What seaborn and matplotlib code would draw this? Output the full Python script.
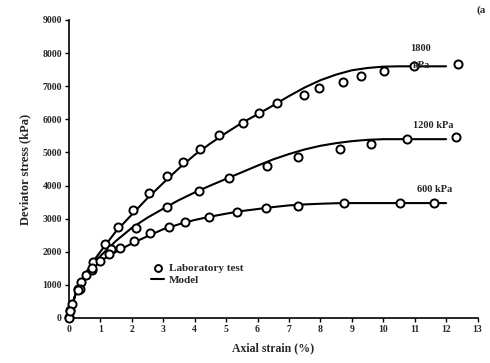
import matplotlib
matplotlib.use("Agg")
import matplotlib.pyplot as plt
import seaborn as sns
import pandas as pd

# ---- data ----
lab_1800_x = [0, 0.04, 0.28, 0.4, 0.53, 0.78, 1.15, 1.57, 2.03, 2.55, 3.11, 3.62, 4.17, 4.78,
              5.53, 6.06, 6.62, 7.49, 7.96, 8.71, 9.3, 10.03, 10.97, 12.37]
lab_1800_y = [40, 240, 870, 1100, 1300, 1700, 2225, 2740, 3260, 3770, 4290, 4700, 5105, 5530,
              5900, 6200, 6485, 6740, 6940, 7140, 7310, 7450, 7620, 7670]
lab_1200_x = [0, 0.1, 0.35, 0.73, 1.0, 1.34, 2.13, 3.11, 4.14, 5.1, 6.3, 7.3, 8.63, 9.61, 10.74, 12.33]
lab_1200_y = [0, 420, 870, 1450, 1720, 2085, 2710, 3345, 3845, 4220, 4600, 4855, 5105, 5250, 5400, 5480]
lab_600_x = [0.05, 0.3, 0.75, 1.26, 1.63, 2.07, 2.58, 3.17, 3.68, 4.47, 5.36, 6.27, 7.3, 8.74, 10.54, 11.63]
lab_600_y = [200, 850, 1500, 1925, 2125, 2325, 2560, 2760, 2890, 3040, 3190, 3310, 3390, 3465, 3465, 3465]

model_x = [0, 0.1, 0.25, 0.5, 0.75, 1, 1.5, 2, 2.5, 3, 3.5, 4, 4.5, 5, 5.5, 6, 6.5, 7, 7.5, 8,
           8.5, 9, 9.5, 10, 10.5, 11, 12]
model_1800 = [0, 380, 850, 1300, 1680, 2000, 2620, 3120, 3620, 4075, 4520, 4925, 5270, 5590, 5890,
              6150, 6420, 6700, 6960, 7180, 7350, 7480, 7550, 7590, 7600, 7600, 7600]
model_1200 = [0, 380, 830, 1280, 1620, 1870, 2330, 2720, 3030, 3300, 3560, 3790, 4000, 4200, 4400,
              4600, 4790, 4950, 5090, 5200, 5280, 5340, 5380, 5400, 5400, 5400, 5400]
model_600 = [0, 380, 820, 1250, 1540, 1720, 2000, 2250, 2470, 2680, 2830, 2960, 3060, 3150, 3230,
             3290, 3350, 3400, 3430, 3450, 3465, 3470, 3470, 3470, 3470, 3470, 3470]

x_ticks = list(range(0, 14))
y_ticks = list(range(0, 10000, 1000))

sns.set_theme(style="white")
plt.rcParams['font.family'] = ['Liberation Serif', 'DejaVu Serif']
plt.rcParams['font.weight'] = 'bold'

fig = plt.figure(figsize=(4.9, 3.63), dpi=100)
ax = fig.add_axes([0.1406, 0.124, 0.834, 0.821])

lab = pd.DataFrame({
    "x": lab_1800_x + lab_1200_x + lab_600_x,
    "y": lab_1800_y + lab_1200_y + lab_600_y,
    "p": ["1800"] * len(lab_1800_x) + ["1200"] * len(lab_1200_x) + ["600"] * len(lab_600_x),
})
mod = pd.DataFrame({
    "x": model_x * 3,
    "y": model_1800 + model_1200 + model_600,
    "p": ["1800"] * len(model_x) + ["1200"] * len(model_x) + ["600"] * len(model_x),
})

for i, p in enumerate(["1800", "1200", "600"]):
    sub = mod[mod.p == p]
    sns.lineplot(data=sub, x="x", y="y", ax=ax, color="black", linewidth=1.5,
                 label="Model" if i == 0 else None, sort=False, legend=False)

ax.scatter(lab.x, lab.y, s=34, facecolor="white", edgecolor="black", linewidth=1.4,
           zorder=3, clip_on=False, label="Laboratory test")

ax.set_xlim(0, 13)
ax.set_ylim(0, 9000)
ax.set_xticks(x_ticks)
ax.set_yticks(y_ticks)
ax.tick_params(axis="both", labelsize=7, direction="out", length=3, width=1, color="black",
               pad=2, bottom=True, left=True)
for lbl in ax.get_xticklabels() + ax.get_yticklabels():
    lbl.set_fontweight("bold")
for s in ["top", "right"]:
    ax.spines[s].set_visible(False)
for s in ["left", "bottom"]:
    ax.spines[s].set_color("black")
    ax.spines[s].set_linewidth(1.2)

ax.set_xlabel("Axial strain (%)", fontsize=8.5, fontweight="bold", labelpad=6)
ax.set_ylabel("Deviator stress (kPa)", fontsize=9, fontweight="bold", labelpad=8)

ax.text(11.2, 8150, "1800", fontsize=7.5, fontweight="bold", ha="center", va="center")
ax.text(11.2, 7620, "kPa", fontsize=7.5, fontweight="bold", ha="center", va="center")
ax.text(11.6, 5800, "1200 kPa", fontsize=7.5, fontweight="bold", ha="center", va="center")
ax.text(11.65, 3870, "600 kPa", fontsize=7.5, fontweight="bold", ha="center", va="center")
fig.text(0.972, 0.972, "(a", fontsize=8, fontweight="bold", ha="left", va="center")

handles, labels = ax.get_legend_handles_labels()
order = [labels.index("Laboratory test"), labels.index("Model")]
ax.legend([handles[k] for k in order], [labels[k] for k in order],
          loc="upper left", bbox_to_anchor=(0.19, 0.2), frameon=False,
          prop={"weight": "bold", "size": 8}, handlelength=1.2, handletextpad=0.4,
          labelspacing=0.2, borderaxespad=0, markerscale=0.85)

fig.savefig("out.png", dpi=100)
